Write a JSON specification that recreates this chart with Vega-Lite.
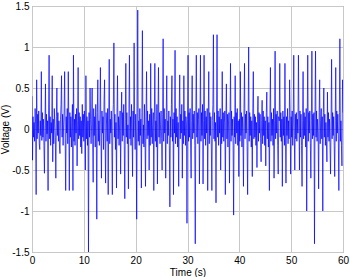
{
"$schema": "https://vega.github.io/schema/vega-lite/v6.json",
"autosize": "none",
"width": 311,
"height": 246,
"padding": {"left": 32, "top": 6, "right": 7, "bottom": 25},
"background": "white",
"config": {"view": {"stroke": "#8a8a8a", "strokeWidth": 1}, "font": "Liberation Sans"},
"data": {"values": [
{"t":0.0,"v":0.4},{"t":0.1,"v":-0.38},{"t":0.2,"v":0.15},{"t":0.3,"v":-0.1},{"t":0.4,"v":0.08},{"t":0.5,"v":-0.15},{"t":0.6,"v":0.25},{"t":0.7,"v":0.05},{"t":0.8,"v":-0.8},{"t":0.9,"v":0.6},
{"t":1.0,"v":-0.12},{"t":1.1,"v":0.18},{"t":1.2,"v":-0.05},{"t":1.3,"v":0.22},{"t":1.4,"v":-0.18},{"t":1.5,"v":-0.25},{"t":1.6,"v":0.1},{"t":1.7,"v":-0.08},{"t":1.8,"v":0.7},{"t":1.9,"v":-0.14},
{"t":2.0,"v":0.2},{"t":2.1,"v":-0.1},{"t":2.2,"v":0.12},{"t":2.3,"v":-0.2},{"t":2.4,"v":-0.54},{"t":2.5,"v":0.05},{"t":2.6,"v":0.55},{"t":2.7,"v":-0.15},{"t":2.8,"v":0.18},{"t":2.9,"v":-0.06},
{"t":3.0,"v":0.1},{"t":3.1,"v":-0.75},{"t":3.2,"v":0.22},{"t":3.3,"v":0.9},{"t":3.4,"v":-0.12},{"t":3.5,"v":0.15},{"t":3.6,"v":-0.2},{"t":3.7,"v":0.08},{"t":3.8,"v":-0.05},{"t":3.9,"v":0.65},
{"t":4.0,"v":-0.4},{"t":4.1,"v":0.12},{"t":4.2,"v":-0.18},{"t":4.3,"v":0.25},{"t":4.4,"v":0.05},{"t":4.5,"v":-0.1},{"t":4.6,"v":-0.6},{"t":4.7,"v":0.15},{"t":4.8,"v":0.5},{"t":4.9,"v":-0.08},
{"t":5.0,"v":0.2},{"t":5.1,"v":-0.15},{"t":5.2,"v":0.1},{"t":5.3,"v":-0.22},{"t":5.4,"v":-0.3},{"t":5.5,"v":0.12},{"t":5.6,"v":0.3},{"t":5.7,"v":0.65},{"t":5.8,"v":-0.1},{"t":5.9,"v":0.18},
{"t":6.0,"v":-0.2},{"t":6.1,"v":0.05},{"t":6.2,"v":0.22},{"t":6.3,"v":0.7},{"t":6.4,"v":-0.12},{"t":6.5,"v":-0.75},{"t":6.6,"v":0.15},{"t":6.7,"v":-0.05},{"t":6.8,"v":0.25},{"t":6.9,"v":-0.18},
{"t":7.0,"v":0.7},{"t":7.1,"v":0.1},{"t":7.2,"v":-0.75},{"t":7.3,"v":0.2},{"t":7.4,"v":-0.1},{"t":7.5,"v":0.15},{"t":7.6,"v":-0.22},{"t":7.7,"v":0.08},{"t":7.8,"v":0.3},{"t":7.9,"v":-0.75},
{"t":8.0,"v":0.9},{"t":8.1,"v":-0.15},{"t":8.2,"v":0.12},{"t":8.3,"v":-0.2},{"t":8.4,"v":0.18},{"t":8.5,"v":-0.05},{"t":8.6,"v":0.25},{"t":8.7,"v":-0.45},{"t":8.8,"v":0.1},{"t":8.9,"v":0.75},
{"t":9.0,"v":-0.12},{"t":9.1,"v":0.2},{"t":9.2,"v":-0.08},{"t":9.3,"v":0.15},{"t":9.4,"v":-0.22},{"t":9.5,"v":0.1},{"t":9.6,"v":-0.3},{"t":9.7,"v":0.3},{"t":9.8,"v":-0.1},{"t":9.9,"v":0.18},
{"t":10.0,"v":-0.15},{"t":10.1,"v":0.22},{"t":10.2,"v":0.05},{"t":10.3,"v":-0.5},{"t":10.4,"v":0.65},{"t":10.5,"v":-0.12},{"t":10.6,"v":0.15},{"t":10.7,"v":-0.2},{"t":10.8,"v":0.1},{"t":10.9,"v":-1.5},
{"t":11.0,"v":0.2},{"t":11.1,"v":-0.1},{"t":11.2,"v":0.5},{"t":11.3,"v":0.12},{"t":11.4,"v":-0.18},{"t":11.5,"v":0.05},{"t":11.6,"v":0.5},{"t":11.7,"v":-0.12},{"t":11.8,"v":-0.65},{"t":11.9,"v":0.25},
{"t":12.0,"v":-0.08},{"t":12.1,"v":0.15},{"t":12.2,"v":-0.22},{"t":12.3,"v":0.3},{"t":12.4,"v":-0.05},{"t":12.5,"v":-1.1},{"t":12.6,"v":0.2},{"t":12.7,"v":0.6},{"t":12.8,"v":-0.15},{"t":12.9,"v":0.1},
{"t":13.0,"v":-0.2},{"t":13.1,"v":0.18},{"t":13.2,"v":0.75},{"t":13.3,"v":-0.1},{"t":13.4,"v":-0.6},{"t":13.5,"v":0.22},{"t":13.6,"v":-0.05},{"t":13.7,"v":0.15},{"t":13.8,"v":-0.25},{"t":13.9,"v":0.35},
{"t":14.0,"v":0.6},{"t":14.1,"v":-0.12},{"t":14.2,"v":-0.66},{"t":14.3,"v":0.2},{"t":14.4,"v":0.05},{"t":14.5,"v":-0.15},{"t":14.6,"v":0.25},{"t":14.7,"v":-0.8},{"t":14.8,"v":0.1},{"t":14.9,"v":0.85},
{"t":15.0,"v":-0.18},{"t":15.1,"v":0.12},{"t":15.2,"v":-0.05},{"t":15.3,"v":0.22},{"t":15.4,"v":-0.2},{"t":15.5,"v":-0.8},{"t":15.6,"v":0.15},{"t":15.7,"v":0.3},{"t":15.8,"v":1.05},{"t":15.9,"v":-0.1},
{"t":16.0,"v":0.18},{"t":16.1,"v":-0.25},{"t":16.2,"v":0.08},{"t":16.3,"v":-0.72},{"t":16.4,"v":0.2},{"t":16.5,"v":0.65},{"t":16.6,"v":-0.12},{"t":16.7,"v":0.15},{"t":16.8,"v":-0.2},{"t":16.9,"v":0.05},
{"t":17.0,"v":0.22},{"t":17.1,"v":-0.55},{"t":17.2,"v":0.1},{"t":17.3,"v":0.45},{"t":17.4,"v":-0.15},{"t":17.5,"v":0.2},{"t":17.6,"v":-0.08},{"t":17.7,"v":0.3},{"t":17.8,"v":-0.2},{"t":17.9,"v":-0.85},
{"t":18.0,"v":0.12},{"t":18.1,"v":0.8},{"t":18.2,"v":-0.1},{"t":18.3,"v":0.2},{"t":18.4,"v":-0.18},{"t":18.5,"v":0.05},{"t":18.6,"v":-0.73},{"t":18.7,"v":0.25},{"t":18.8,"v":0.9},{"t":18.9,"v":-0.12},
{"t":19.0,"v":0.15},{"t":19.1,"v":-0.2},{"t":19.2,"v":0.3},{"t":19.3,"v":-0.05},{"t":19.4,"v":-0.58},{"t":19.5,"v":0.22},{"t":19.6,"v":-0.1},{"t":19.7,"v":1.05},{"t":19.8,"v":0.1},{"t":19.9,"v":-0.25},
{"t":20.0,"v":0.18},{"t":20.1,"v":-0.12},{"t":20.2,"v":-1.1},{"t":20.3,"v":0.2},{"t":20.4,"v":1.45},{"t":20.5,"v":-0.15},{"t":20.6,"v":0.1},{"t":20.7,"v":-0.2},{"t":20.8,"v":0.25},{"t":20.9,"v":-0.08},
{"t":21.0,"v":0.12},{"t":21.1,"v":-0.72},{"t":21.2,"v":0.2},{"t":21.3,"v":1.2},{"t":21.4,"v":-0.18},{"t":21.5,"v":0.05},{"t":21.6,"v":-0.22},{"t":21.7,"v":0.3},{"t":21.8,"v":-0.1},{"t":21.9,"v":-0.7},
{"t":22.0,"v":0.15},{"t":22.1,"v":0.7},{"t":22.2,"v":-0.12},{"t":22.3,"v":0.22},{"t":22.4,"v":-0.08},{"t":22.5,"v":0.1},{"t":22.6,"v":-0.5},{"t":22.7,"v":0.18},{"t":22.8,"v":-0.2},{"t":22.9,"v":0.8},
{"t":23.0,"v":-0.1},{"t":23.1,"v":0.25},{"t":23.2,"v":-0.18},{"t":23.3,"v":0.05},{"t":23.4,"v":0.2},{"t":23.5,"v":-0.75},{"t":23.6,"v":0.12},{"t":23.7,"v":0.8},{"t":23.8,"v":-0.15},{"t":23.9,"v":0.1},
{"t":24.0,"v":-0.22},{"t":24.1,"v":0.3},{"t":24.2,"v":-0.67},{"t":24.3,"v":0.15},{"t":24.4,"v":0.75},{"t":24.5,"v":-0.1},{"t":24.6,"v":0.2},{"t":24.7,"v":-0.18},{"t":24.8,"v":0.05},{"t":24.9,"v":0.22},
{"t":25.0,"v":-0.12},{"t":25.1,"v":-0.5},{"t":25.2,"v":0.18},{"t":25.3,"v":1.1},{"t":25.4,"v":-0.15},{"t":25.5,"v":0.25},{"t":25.6,"v":-0.05},{"t":25.7,"v":0.12},{"t":25.8,"v":-0.6},{"t":25.9,"v":0.2},
{"t":26.0,"v":0.65},{"t":26.1,"v":-0.18},{"t":26.2,"v":0.1},{"t":26.3,"v":-0.08},{"t":26.4,"v":0.22},{"t":26.5,"v":-0.2},{"t":26.6,"v":-0.95},{"t":26.7,"v":0.15},{"t":26.8,"v":-0.1},{"t":26.9,"v":0.3},
{"t":27.0,"v":0.65},{"t":27.1,"v":-0.15},{"t":27.2,"v":0.12},{"t":27.3,"v":-0.8},{"t":27.4,"v":0.2},{"t":27.5,"v":-0.05},{"t":27.6,"v":0.96},{"t":27.7,"v":-0.18},{"t":27.8,"v":0.25},{"t":27.9,"v":-0.1},
{"t":28.0,"v":0.15},{"t":28.1,"v":-0.22},{"t":28.2,"v":0.08},{"t":28.3,"v":-0.7},{"t":28.4,"v":0.2},{"t":28.5,"v":0.66},{"t":28.6,"v":-0.12},{"t":28.7,"v":0.18},{"t":28.8,"v":-0.05},{"t":28.9,"v":0.3},
{"t":29.0,"v":-0.6},{"t":29.1,"v":0.1},{"t":29.2,"v":-0.18},{"t":29.3,"v":0.65},{"t":29.4,"v":-0.08},{"t":29.5,"v":0.22},{"t":29.6,"v":-0.2},{"t":29.7,"v":0.15},{"t":29.8,"v":0.05},{"t":29.9,"v":-1.15},
{"t":30.0,"v":0.12},{"t":30.1,"v":0.9},{"t":30.2,"v":-0.15},{"t":30.3,"v":0.2},{"t":30.4,"v":-0.1},{"t":30.5,"v":0.25},{"t":30.6,"v":-0.22},{"t":30.7,"v":-0.6},{"t":30.8,"v":0.1},{"t":30.9,"v":0.65},
{"t":31.0,"v":-0.12},{"t":31.1,"v":0.18},{"t":31.2,"v":-0.05},{"t":31.3,"v":0.22},{"t":31.4,"v":-0.2},{"t":31.5,"v":-1.4},{"t":31.6,"v":0.15},{"t":31.7,"v":0.9},{"t":31.8,"v":-0.1},{"t":31.9,"v":0.2},
{"t":32.0,"v":-0.18},{"t":32.1,"v":0.12},{"t":32.2,"v":0.25},{"t":32.3,"v":-0.67},{"t":32.4,"v":0.05},{"t":32.5,"v":0.9},{"t":32.6,"v":-0.15},{"t":32.7,"v":0.2},{"t":32.8,"v":-0.08},{"t":32.9,"v":0.3},
{"t":33.0,"v":-0.67},{"t":33.1,"v":0.1},{"t":33.2,"v":0.9},{"t":33.3,"v":-0.12},{"t":33.4,"v":0.22},{"t":33.5,"v":-0.2},{"t":33.6,"v":0.15},{"t":33.7,"v":-0.05},{"t":33.8,"v":0.25},{"t":33.9,"v":-0.75},
{"t":34.0,"v":0.12},{"t":34.1,"v":0.7},{"t":34.2,"v":-0.18},{"t":34.3,"v":0.2},{"t":34.4,"v":-0.08},{"t":34.5,"v":0.15},{"t":34.6,"v":-0.22},{"t":34.7,"v":-0.75},{"t":34.8,"v":0.1},{"t":34.9,"v":0.3},
{"t":35.0,"v":1.15},{"t":35.1,"v":-0.12},{"t":35.2,"v":0.2},{"t":35.3,"v":-0.15},{"t":35.4,"v":0.08},{"t":35.5,"v":-0.9},{"t":35.6,"v":0.18},{"t":35.7,"v":1.15},{"t":35.8,"v":-0.1},{"t":35.9,"v":0.22},
{"t":36.0,"v":-0.2},{"t":36.1,"v":0.15},{"t":36.2,"v":-0.05},{"t":36.3,"v":0.25},{"t":36.4,"v":-0.5},{"t":36.5,"v":0.12},{"t":36.6,"v":-0.18},{"t":36.7,"v":0.7},{"t":36.8,"v":-0.1},{"t":36.9,"v":0.2},
{"t":37.0,"v":-0.15},{"t":37.1,"v":0.08},{"t":37.2,"v":0.22},{"t":37.3,"v":-0.8},{"t":37.4,"v":0.1},{"t":37.5,"v":0.55},{"t":37.6,"v":-0.12},{"t":37.7,"v":0.18},{"t":37.8,"v":-0.22},{"t":37.9,"v":0.05},
{"t":38.0,"v":0.2},{"t":38.1,"v":-0.66},{"t":38.2,"v":0.1},{"t":38.3,"v":0.8},{"t":38.4,"v":-0.15},{"t":38.5,"v":0.22},{"t":38.6,"v":-0.08},{"t":38.7,"v":0.12},{"t":38.8,"v":-0.2},{"t":38.9,"v":-1.05},
{"t":39.0,"v":0.15},{"t":39.1,"v":-0.1},{"t":39.2,"v":0.65},{"t":39.3,"v":-0.18},{"t":39.4,"v":0.2},{"t":39.5,"v":-0.05},{"t":39.6,"v":0.25},{"t":39.7,"v":-0.2},{"t":39.8,"v":0.1},{"t":39.9,"v":-0.58},
{"t":40.0,"v":0.12},{"t":40.1,"v":-0.15},{"t":40.2,"v":0.7},{"t":40.3,"v":-0.08},{"t":40.4,"v":0.2},{"t":40.5,"v":-0.22},{"t":40.6,"v":0.15},{"t":40.7,"v":-0.1},{"t":40.8,"v":-0.7},{"t":40.9,"v":0.25},
{"t":41.0,"v":0.8},{"t":41.1,"v":-0.12},{"t":41.2,"v":0.18},{"t":41.3,"v":-0.05},{"t":41.4,"v":0.22},{"t":41.5,"v":-0.2},{"t":41.6,"v":-0.8},{"t":41.7,"v":0.1},{"t":41.8,"v":1.0},{"t":41.9,"v":-0.15},
{"t":42.0,"v":0.2},{"t":42.1,"v":-0.08},{"t":42.2,"v":0.15},{"t":42.3,"v":-0.22},{"t":42.4,"v":0.1},{"t":42.5,"v":-0.58},{"t":42.6,"v":0.25},{"t":42.7,"v":0.7},{"t":42.8,"v":-0.12},{"t":42.9,"v":0.18},
{"t":43.0,"v":-0.1},{"t":43.1,"v":0.15},{"t":43.2,"v":-0.2},{"t":43.3,"v":0.08},{"t":43.4,"v":-0.47},{"t":43.5,"v":0.12},{"t":43.6,"v":0.4},{"t":43.7,"v":-0.15},{"t":43.8,"v":0.2},{"t":43.9,"v":-0.05},
{"t":44.0,"v":0.18},{"t":44.1,"v":-0.12},{"t":44.2,"v":-0.4},{"t":44.3,"v":0.1},{"t":44.4,"v":0.35},{"t":44.5,"v":-0.18},{"t":44.6,"v":0.22},{"t":44.7,"v":-0.08},{"t":44.8,"v":0.15},{"t":44.9,"v":-0.2},
{"t":45.0,"v":0.1},{"t":45.1,"v":-0.45},{"t":45.2,"v":0.2},{"t":45.3,"v":0.45},{"t":45.4,"v":-0.12},{"t":45.5,"v":0.15},{"t":45.6,"v":-0.22},{"t":45.7,"v":0.08},{"t":45.8,"v":-0.75},{"t":45.9,"v":0.18},
{"t":46.0,"v":0.75},{"t":46.1,"v":-0.15},{"t":46.2,"v":0.2},{"t":46.3,"v":-0.08},{"t":46.4,"v":0.12},{"t":46.5,"v":-0.2},{"t":46.6,"v":0.25},{"t":46.7,"v":-0.6},{"t":46.8,"v":0.1},{"t":46.9,"v":0.95},
{"t":47.0,"v":-0.12},{"t":47.1,"v":0.18},{"t":47.2,"v":-0.05},{"t":47.3,"v":0.22},{"t":47.4,"v":-0.2},{"t":47.5,"v":-0.55},{"t":47.6,"v":0.15},{"t":47.7,"v":0.1},{"t":47.8,"v":0.8},{"t":47.9,"v":-0.1},
{"t":48.0,"v":0.2},{"t":48.1,"v":-0.15},{"t":48.2,"v":0.12},{"t":48.3,"v":-0.7},{"t":48.4,"v":0.22},{"t":48.5,"v":-0.08},{"t":48.6,"v":0.15},{"t":48.7,"v":-0.2},{"t":48.8,"v":0.8},{"t":48.9,"v":-0.1},
{"t":49.0,"v":-0.66},{"t":49.1,"v":0.15},{"t":49.2,"v":-0.08},{"t":49.3,"v":0.25},{"t":49.4,"v":-0.18},{"t":49.5,"v":0.1},{"t":49.6,"v":-0.12},{"t":49.7,"v":0.6},{"t":49.8,"v":0.2},{"t":49.9,"v":-0.55},
{"t":50.0,"v":0.15},{"t":50.1,"v":-0.1},{"t":50.2,"v":0.22},{"t":50.3,"v":-0.2},{"t":50.4,"v":0.1},{"t":50.5,"v":0.9},{"t":50.6,"v":-0.08},{"t":50.7,"v":-0.5},{"t":50.8,"v":0.18},{"t":50.9,"v":-0.12},
{"t":51.0,"v":0.2},{"t":51.1,"v":-0.15},{"t":51.2,"v":0.12},{"t":51.3,"v":-0.05},{"t":51.4,"v":0.9},{"t":51.5,"v":0.15},{"t":51.6,"v":-0.5},{"t":51.7,"v":0.22},{"t":51.8,"v":-0.1},{"t":51.9,"v":0.18},
{"t":52.0,"v":-0.2},{"t":52.1,"v":-0.7},{"t":52.2,"v":0.1},{"t":52.3,"v":0.7},{"t":52.4,"v":-0.12},{"t":52.5,"v":0.2},{"t":52.6,"v":-0.08},{"t":52.7,"v":0.15},{"t":52.8,"v":-0.22},{"t":52.9,"v":0.25},
{"t":53.0,"v":-1.0},{"t":53.1,"v":0.12},{"t":53.2,"v":0.9},{"t":53.3,"v":-0.15},{"t":53.4,"v":0.2},{"t":53.5,"v":-0.05},{"t":53.6,"v":0.22},{"t":53.7,"v":-0.18},{"t":53.8,"v":-0.6},{"t":53.9,"v":0.1},
{"t":54.0,"v":0.95},{"t":54.1,"v":-0.12},{"t":54.2,"v":0.18},{"t":54.3,"v":-0.08},{"t":54.4,"v":0.2},{"t":54.5,"v":-1.4},{"t":54.6,"v":0.15},{"t":54.7,"v":0.95},{"t":54.8,"v":-0.1},{"t":54.9,"v":0.22},
{"t":55.0,"v":-0.15},{"t":55.1,"v":0.12},{"t":55.2,"v":-0.05},{"t":55.3,"v":-0.73},{"t":55.4,"v":0.2},{"t":55.5,"v":0.6},{"t":55.6,"v":-0.18},{"t":55.7,"v":0.1},{"t":55.8,"v":0.25},{"t":55.9,"v":-0.12},
{"t":56.0,"v":0.15},{"t":56.1,"v":-1.0},{"t":56.2,"v":0.2},{"t":56.3,"v":0.5},{"t":56.4,"v":-0.1},{"t":56.5,"v":0.18},{"t":56.6,"v":-0.2},{"t":56.7,"v":0.08},{"t":56.8,"v":-0.15},{"t":56.9,"v":-0.4},
{"t":57.0,"v":0.45},{"t":57.1,"v":-0.1},{"t":57.2,"v":0.2},{"t":57.3,"v":-0.15},{"t":57.4,"v":0.12},{"t":57.5,"v":-0.22},{"t":57.6,"v":-0.55},{"t":57.7,"v":0.1},{"t":57.8,"v":0.85},{"t":57.9,"v":-0.12},
{"t":58.0,"v":0.2},{"t":58.1,"v":-0.08},{"t":58.2,"v":0.15},{"t":58.3,"v":-0.2},{"t":58.4,"v":-0.58},{"t":58.5,"v":0.1},{"t":58.6,"v":0.75},{"t":58.7,"v":-0.15},{"t":58.8,"v":0.22},{"t":58.9,"v":-0.05},
{"t":59.0,"v":0.18},{"t":59.1,"v":-0.12},{"t":59.2,"v":-0.75},{"t":59.3,"v":0.2},{"t":59.4,"v":1.1},{"t":59.5,"v":-0.15},{"t":59.6,"v":0.1},{"t":59.7,"v":-0.2},{"t":59.8,"v":-0.45},{"t":59.9,"v":0.6},
{"t":60.0,"v":0.2}
]},
"mark": {"type": "line", "color": "#0000ff", "strokeWidth": 0.7, "clip": true, "interpolate": "linear"},
"encoding": {
"x": {"field": "t", "type": "quantitative", "scale": {"domain": [0, 60], "nice": false, "zero": false},
"axis": {"title": "Time (s)", "values": [0,10,20,30,40,50,60], "grid": true, "gridColor": "#c8c8c8", "gridWidth": 1, "gridOpacity": 1, "domain": false, "ticks": false, "labelPadding": 3, "labelFontSize": 10, "labelColor": "#000", "labelFont": "Liberation Sans", "labelFlush": false, "titleFontSize": 10, "titleFontWeight": "normal", "titleColor": "#000", "titleFont": "Liberation Sans", "titlePadding": 2, "labelExpr": "'' + datum.value"}},
"y": {"field": "v", "type": "quantitative", "scale": {"domain": [-1.5, 1.5], "nice": false, "zero": false},
"axis": {"title": "Voltage (V)", "values": [-1.5,-1,-0.5,0,0.5,1,1.5], "grid": true, "gridColor": "#c8c8c8", "gridWidth": 1, "gridOpacity": 1, "domain": false, "ticks": false, "labelPadding": 3, "labelFontSize": 10, "labelColor": "#000", "labelFont": "Liberation Sans", "labelFlush": false, "titleFontSize": 10, "titleFontWeight": "normal", "titleColor": "#000", "titleFont": "Liberation Sans", "titlePadding": 1, "labelExpr": "'' + datum.value"}}
}
}
